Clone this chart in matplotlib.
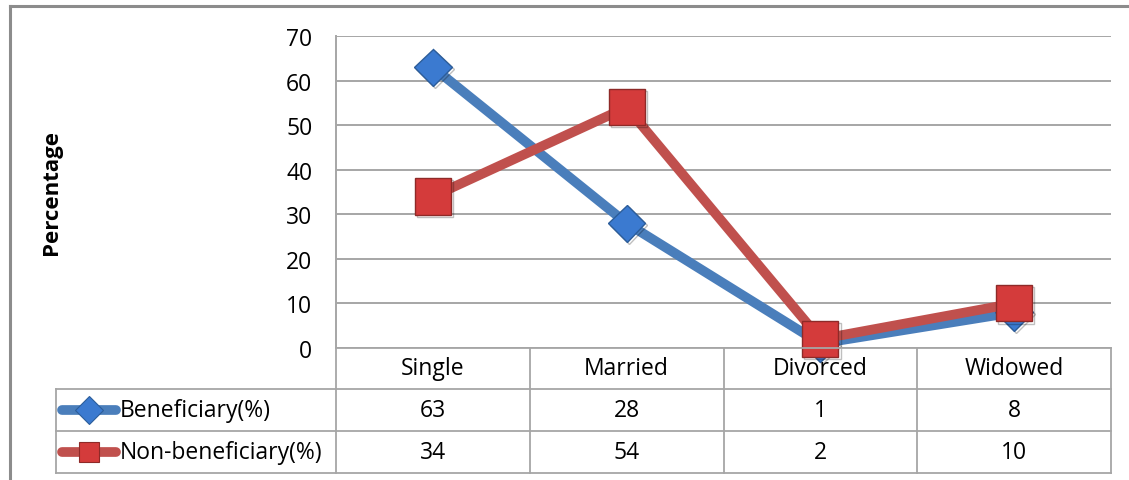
import matplotlib
matplotlib.use("Agg")
import matplotlib.pyplot as plt
from matplotlib.lines import Line2D
import matplotlib.patheffects as pe

categories = ["Single", "Married", "Divorced", "Widowed"]
beneficiary = [63, 28, 1, 8]
non_beneficiary = [34, 54, 2, 10]
series_names = ["Beneficiary(%)", "Non-beneficiary(%)"]
y_ticks = [0, 10, 20, 30, 40, 50, 60, 70]

W, H = 1129, 481
plt.rcParams["font.family"] = ["Open Sans", "DejaVu Sans"]
FS = 16.5

fig = plt.figure(figsize=(W / 100, H / 100), dpi=100)

def fx(px):
    return px / W

def fy(py):
    return 1 - py / H

# plot area
left, right, top, bottom = 336, 1111, 37, 349
ax = fig.add_axes([fx(left), fy(bottom), fx(right - left), (bottom - top) / H])
ax.set_xlim(-0.5, len(categories) - 0.5)
ax.set_ylim(0, 70)
ax.set_yticks(y_ticks)
ax.set_yticklabels([str(t) for t in y_ticks], fontsize=FS)
ax.tick_params(axis="y", length=0, pad=17)
ax.set_xticks([])
ax.grid(axis="y", color="#a6a6a6", linewidth=1.4)
ax.set_axisbelow(True)
for s in ["top", "right", "bottom"]:
    ax.spines[s].set_visible(False)
ax.spines["left"].set_color("#a6a6a6")
ax.spines["left"].set_linewidth(1.4)

blue, blue_m, blue_e = "#4a7ebb", "#3b7ad0", "#2c5d9a"
red, red_m, red_e = "#c0504d", "#d43b3b", "#8e2a28"
shadow = [pe.SimpleLineShadow(offset=(1.5, -1.5), alpha=0.25), pe.Normal()]

xs = list(range(len(categories)))
ax.plot(xs, beneficiary, color=blue, linewidth=7, solid_joinstyle="round",
        zorder=3, clip_on=False)
ax.plot(xs, beneficiary, linestyle="none", marker="D", markersize=19,
        markerfacecolor=blue_m, markeredgecolor=blue_e, markeredgewidth=1.0,
        zorder=4, clip_on=False, path_effects=shadow)
ax.plot(xs, non_beneficiary, color=red, linewidth=7, solid_joinstyle="round",
        zorder=5, clip_on=False)
ax.plot(xs, non_beneficiary, linestyle="none", marker="s", markersize=26,
        markerfacecolor=red_m, markeredgecolor=red_e, markeredgewidth=1.0,
        zorder=6, clip_on=False, path_effects=shadow)

ax.set_ylabel("Percentage", fontsize=16, fontweight="bold")
ax.yaxis.set_label_coords(fx(62 - left) / fx(right - left), 0.5)

# data table beneath the plot
grid_c = "#a6a6a6"
lw = 1.3
tbl_left = 56
row_y = [349, 390, 432, 474]
col_x = [left + i * (right - left) / len(categories) for i in range(len(categories) + 1)]

def hline(x0, x1, y):
    fig.add_artist(Line2D([fx(x0), fx(x1)], [fy(y), fy(y)], color=grid_c, lw=lw))

def vline(x, y0, y1):
    fig.add_artist(Line2D([fx(x), fx(x)], [fy(y0), fy(y1)], color=grid_c, lw=lw))

hline(left, right, row_y[0])
for y in row_y[1:]:
    hline(tbl_left, right, y)
for x in col_x:
    vline(x, row_y[0], row_y[3])
vline(tbl_left, row_y[1], row_y[3])

for i, c in enumerate(categories):
    cx = (col_x[i] + col_x[i + 1]) / 2
    fig.text(fx(cx), fy((row_y[0] + row_y[1]) / 2), c, ha="center", va="center",
             fontsize=FS)
    fig.text(fx(cx), fy((row_y[1] + row_y[2]) / 2), str(beneficiary[i]),
             ha="center", va="center", fontsize=FS)
    fig.text(fx(cx), fy((row_y[2] + row_y[3]) / 2), str(non_beneficiary[i]),
             ha="center", va="center", fontsize=FS)

# legend keys inside the table
for r, (name, col, mcol, ecol, mk, ms) in enumerate([
        (series_names[0], blue, blue_m, blue_e, "D", 14),
        (series_names[1], red, red_m, red_e, "s", 15)]):
    yc = fy((row_y[r + 1] + row_y[r + 2]) / 2)
    fig.add_artist(Line2D([fx(62), fx(116)], [yc, yc], color=col, lw=7,
                          solid_capstyle="round"))
    fig.add_artist(Line2D([fx(89)], [yc], marker=mk, markersize=ms,
                          markerfacecolor=mcol, markeredgecolor=ecol,
                          markeredgewidth=0.8, linestyle="none"))
    fig.text(fx(120), yc, name, ha="left", va="center", fontsize=FS)

# chart frame
fig.add_artist(Line2D([fx(10), fx(10)], [fy(7), 0], color="#8c8c8c", lw=2.2))
fig.add_artist(Line2D([fx(10), 1], [fy(7), fy(7)], color="#8c8c8c", lw=2.2))

fig.savefig("out.png", dpi=100)
